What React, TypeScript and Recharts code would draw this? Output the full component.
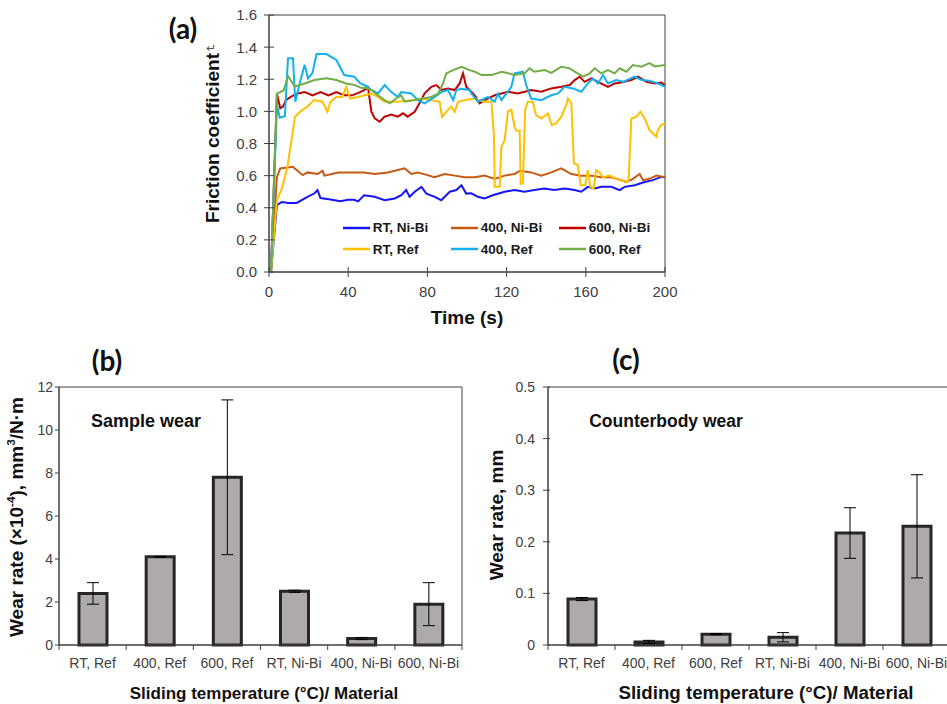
import React from 'react';
import {
  LineChart, Line, XAxis, YAxis, ReferenceArea, Legend,
  BarChart, Bar, ErrorBar,
} from 'recharts';

// ---------------- data: panel (a) friction coefficient vs time ----------------
const timeTicks = [0, 40, 80, 120, 160, 200];
const frictionTicks = [0, 0.2, 0.4, 0.6, 0.8, 1.0, 1.2, 1.4, 1.6];

const rtNiBi: [number, number][] = [[1,0],[4,0.416],[6.5,0.436],[9.8,0.43],[14,0.43],[19.4,0.468],[23,0.49],[24.5,0.51],[26,0.46],[31,0.452],[36,0.44],[40,0.45],[43,0.45],[45,0.44],[48,0.478],[53.4,0.468],[58.4,0.447],[63.5,0.458],[66.8,0.478],[69.3,0.51],[71,0.468],[73.6,0.5],[77,0.53],[79.5,0.488],[83.7,0.468],[87,0.447],[91.3,0.5],[94.6,0.51],[97.2,0.54],[99.6,0.488],[102.2,0.49],[105.5,0.468],[108.9,0.458],[113,0.478],[119,0.5],[124,0.51],[129,0.5],[134,0.51],[139,0.52],[144,0.51],[149.3,0.52],[154.4,0.51],[157.7,0.5],[161,0.53],[164.5,0.52],[167.8,0.53],[172.9,0.53],[177.1,0.51],[179.6,0.53],[184.7,0.54],[189.7,0.56],[193.9,0.572],[198.1,0.592],[200,0.59]];
const t400NiBi: [number, number][] = [[1,0],[4,0.59],[5.7,0.645],[12,0.655],[17,0.603],[19.4,0.62],[24.5,0.61],[27,0.63],[28,0.6],[35,0.62],[41,0.62],[48,0.62],[53.4,0.61],[60,0.62],[68.5,0.645],[71.9,0.61],[75.2,0.62],[83.7,0.59],[88.7,0.61],[93.8,0.6],[98.8,0.59],[103.9,0.59],[108.9,0.6],[114,0.58],[119,0.6],[124,0.61],[126.6,0.63],[132.4,0.62],[137.5,0.6],[142.6,0.62],[147.6,0.645],[152.7,0.61],[157.7,0.6],[162.8,0.6],[167.8,0.59],[172.9,0.59],[178,0.572],[180.5,0.56],[183.8,0.58],[187.2,0.61],[188.9,0.572],[192.2,0.58],[195.6,0.6],[200,0.59]];
const t600NiBi: [number, number][] = [[1,0],[4,1.11],[5.7,1.02],[7.1,1.03],[8.5,1.07],[11,1.09],[14,1.11],[18,1.12],[22,1.1],[26,1.12],[30,1.1],[34,1.12],[38,1.1],[42,1.1],[46,1.12],[48.3,1.133],[50,1.15],[51.7,0.998],[53.4,0.956],[55.9,0.935],[58.4,0.967],[61.8,0.98],[65,0.967],[67.7,0.988],[70,0.967],[73.6,0.998],[76,1.05],[78.6,1.112],[82,1.153],[84.5,1.164],[87,1.133],[90.4,1.143],[93.8,1.133],[96.3,1.174],[98,1.237],[99.6,1.153],[101.3,1.133],[103.9,1.1],[106.4,1.05],[108.9,1.07],[114,1.1],[120.7,1.122],[125.7,1.112],[132.4,1.133],[137.5,1.122],[142.6,1.143],[147.6,1.153],[151.9,1.164],[154.4,1.195],[156.9,1.216],[159.4,1.184],[162.8,1.205],[166.1,1.184],[171.2,1.153],[174.6,1.174],[177.9,1.18],[183,1.195],[186.4,1.216],[190.6,1.184],[194.8,1.174],[198.1,1.18],[200,1.164]];
const rtRef: [number, number][] = [[1,0],[4,0.447],[6.5,0.52],[9.3,0.655],[11.9,0.863],[13.1,0.966],[16,1.0],[19.4,1.03],[22.7,1.07],[27,1.06],[29.5,0.998],[31,1.06],[34,1.09],[37,1.09],[39,1.153],[41,1.08],[45,1.09],[48.3,1.1],[51.7,1.11],[55,1.09],[58.4,1.06],[65,1.06],[71.9,1.07],[77.8,1.08],[82,1.07],[86.2,1.06],[87.4,0.966],[89.6,0.998],[92,1.03],[93.8,0.998],[95.5,1.06],[98.8,1.07],[103.9,1.08],[108.9,1.06],[112.3,1.06],[113.6,0.85],[114,0.53],[116.5,0.53],[117.4,0.78],[119,0.82],[120.7,1.0],[122.4,1.01],[124,0.904],[124.9,0.88],[126.6,0.88],[127.1,0.55],[128.2,0.55],[129.4,1.01],[130.7,1.06],[133.2,1.06],[134.9,0.977],[137.5,0.956],[140.8,0.987],[142.8,0.915],[145,0.925],[147.6,0.967],[150.1,1.04],[151,1.08],[152.7,1.05],[154,0.676],[156,0.665],[157.4,0.54],[159.7,0.54],[161,0.634],[162.3,0.53],[164,0.52],[165.2,0.634],[166.9,0.62],[168.6,0.59],[172,0.6],[175.4,0.58],[180.5,0.56],[181.6,0.57],[183,0.956],[185.5,0.966],[187.6,0.998],[189.7,0.956],[192.2,0.883],[195.6,0.842],[196.4,0.883],[198.1,0.915],[200,0.925]];
const t400Ref: [number, number][] = [[1,0],[4,1.04],[5.5,0.96],[8,0.97],[9.6,1.33],[12.1,1.33],[13.3,1.06],[15,1.15],[18,1.29],[19.7,1.205],[22,1.24],[24,1.357],[29,1.357],[34,1.32],[38,1.226],[43,1.216],[46,1.175],[49.6,1.155],[51.7,1.133],[55,1.112],[58.4,1.164],[61.8,1.12],[65,1.09],[66.8,1.12],[71.9,1.112],[75.2,1.07],[78.6,1.05],[83.7,1.09],[87,1.12],[90.4,1.133],[93,1.07],[94.6,1.133],[97.2,1.14],[101.3,1.133],[102.2,1.112],[105.5,1.06],[110.6,1.09],[114,1.06],[115.6,1.11],[117.4,1.07],[122.4,1.153],[124,1.237],[128.2,1.247],[129.9,1.164],[132.4,1.08],[137.5,1.07],[142.6,1.1],[146,1.112],[149.3,1.153],[153.5,1.143],[157.7,1.122],[161,1.174],[163.6,1.205],[166.1,1.174],[168.7,1.226],[171.2,1.174],[175.4,1.195],[178.8,1.184],[184.7,1.216],[188.1,1.195],[192.2,1.19],[196.4,1.174],[200,1.153]];
const t600Ref: [number, number][] = [[1,0],[4,1.11],[7.4,1.13],[9.6,1.22],[13,1.155],[18,1.174],[23,1.195],[29,1.206],[34,1.195],[39,1.174],[43,1.165],[47,1.145],[49.6,1.145],[51.7,1.133],[55,1.1],[58.4,1.07],[61,1.05],[64.2,1.08],[66.8,1.1],[68.5,1.06],[73.6,1.07],[77.8,1.08],[82,1.09],[85.4,1.11],[87.9,1.174],[89.6,1.237],[93,1.257],[97.2,1.278],[101.3,1.257],[103.9,1.247],[107.3,1.226],[112.3,1.226],[117.4,1.247],[119.9,1.24],[124,1.226],[129.1,1.237],[131.6,1.268],[134,1.247],[139.2,1.257],[142.6,1.24],[147.6,1.278],[151.9,1.268],[154.4,1.247],[158.6,1.216],[162,1.237],[164.5,1.268],[167.8,1.237],[171.2,1.257],[174.6,1.237],[177.1,1.268],[180.5,1.247],[183.8,1.288],[188.1,1.278],[192.2,1.3],[194.8,1.28],[200,1.288]];

const seriesNames = ['RT, Ni-Bi', '400, Ni-Bi', '600, Ni-Bi', 'RT, Ref', '400, Ref', '600, Ref'];
const seriesColors = ['#1515f5', '#c65a14', '#c00000', '#ffc000', '#12b0ee', '#70ad47'];
const seriesData = [rtNiBi, t400NiBi, t600NiBi, rtRef, t400Ref, t600Ref];

// ---------------- data: panels (b) and (c) ----------------
const categories = ['RT, Ref', '400, Ref', '600, Ref', 'RT, Ni-Bi', '400, Ni-Bi', '600, Ni-Bi'];
const sampleWear = [2.4, 4.1, 7.8, 2.5, 0.3, 1.9];
const sampleWearErr = [0.5, 0.02, 3.6, 0.05, 0.05, 1.0];
const sampleTicks = [0, 2, 4, 6, 8, 10, 12];
const counterWear = [0.089, 0.006, 0.021, 0.015, 0.217, 0.23];
const counterWearErr = [0.003, 0.003, 0.001, 0.009, 0.049, 0.1];
const counterTicks = [0, 0.1, 0.2, 0.3, 0.4, 0.5];

const sampleRows = categories.map((c, i) => ({ c, v: sampleWear[i], e: sampleWearErr[i] }));
const counterRows = categories.map((c, i) => ({ c, v: counterWear[i], e: counterWearErr[i] }));

// ---------------- styles ----------------
const SANS = '"Liberation Sans", Arial, Helvetica, sans-serif';
const AXIS = '#404040';
const TICK = '#404040';
const TITLE = '#111111';
const BAR_FILL = '#aeaaaa';
const BAR_STROKE = '#262626';

const TopYTick = (props: any) => {
  const { x, y, payload } = props;
  return (
    <g>
      <line x1={x - 5} x2={x + 5} y1={y} y2={y} stroke={AXIS} strokeWidth={1} />
      <text x={x - 12} y={y} dy="0.36em" textAnchor="end" fontSize={15} fill={TICK} fontFamily={SANS}>
        {Number(payload.value).toFixed(1)}
      </text>
    </g>
  );
};

const TopXTick = (props: any) => {
  const { x, y, payload } = props;
  return (
    <g>
      <line x1={x} x2={x} y1={y - 5} y2={y + 5} stroke={AXIS} strokeWidth={1} />
      <text x={x} y={y + 25} textAnchor="middle" fontSize={15} fill={TICK} fontFamily={SANS}>
        {payload.value}
      </text>
    </g>
  );
};

const makeCatTick = (half: number, count: number) => (props: any) => {
  const { x, y, payload, index } = props;
  return (
    <g>
      <line x1={x - half} x2={x - half} y1={y} y2={y + 5} stroke={AXIS} strokeWidth={1} />
      {index === count - 1 ? (
        <line x1={x + half} x2={x + half} y1={y} y2={y + 5} stroke={AXIS} strokeWidth={1} />
      ) : null}
      <text x={x} y={y + 23} textAnchor="middle" fontSize={14} fill={TICK} fontFamily={SANS}>
        {payload.value}
      </text>
    </g>
  );
};

const makeValTick = (left: number, right: number, gap: number) => (props: any) => {
  const { x, y, payload } = props;
  return (
    <g>
      <line x1={x - left} x2={x + right} y1={y} y2={y} stroke={AXIS} strokeWidth={1} />
      <text x={x - gap} y={y} dy="0.36em" textAnchor="end" fontSize={14} fill={TICK} fontFamily={SANS}>
        {payload.value}
      </text>
    </g>
  );
};

const LegendContent = (props: any) => {
  const items = [...(props.payload || [])].sort(
    (a: any, b: any) => seriesNames.indexOf(a.value) - seriesNames.indexOf(b.value),
  );
  return (
    <div style={{ display: 'grid', gridTemplateColumns: '108px 108px 108px', rowGap: 3.6 }}>
      {items.map((it: any) => (
        <div key={it.value} style={{ display: 'flex', alignItems: 'center', height: 18 }}>
          <svg width={27} height={4} style={{ display: 'block' }}>
            <line x1={0} x2={27} y1={2} y2={2} stroke={it.color} strokeWidth={2.5} />
          </svg>
          <span style={{ marginLeft: 3, fontFamily: SANS, fontWeight: 700, fontSize: 13.5, color: '#1a1a1a', whiteSpace: 'nowrap' }}>
            {it.value}
          </span>
        </div>
      ))}
    </div>
  );
};

const Txt = ({ x, y, size, bold = true, rotate = false, family = SANS, color = TITLE, children }: any) => (
  <div
    style={{
      position: 'absolute', left: x, top: y,
      transform: `translate(-50%, -50%)${rotate ? ' rotate(-90deg)' : ''}`,
      fontFamily: family, fontSize: size, fontWeight: bold ? 700 : 400, color,
      whiteSpace: 'nowrap', lineHeight: 1.15,
    }}
  >
    {children}
  </div>
);

export default function App() {
  return (
    <div style={{ position: 'absolute', left: 0, top: 0, width: 947, height: 704, overflow: 'hidden', background: '#fff' }}>
      {/* Panel (a) */}
      <div style={{ position: 'absolute', left: 0, top: 0 }}>
        <LineChart width={700} height={330} margin={{ top: 15, right: 35, left: 0, bottom: 0 }}>
          <XAxis
            type="number" dataKey="t" domain={[0, 200]} ticks={timeTicks} interval={0}
            height={58} tickSize={0} tickMargin={0} tickLine={false}
            axisLine={{ stroke: AXIS }} tick={<TopXTick />}
          />
          <YAxis
            type="number" domain={[0, 1.6]} ticks={frictionTicks} interval={0}
            width={269} tickSize={0} tickMargin={0} tickLine={false}
            axisLine={{ stroke: AXIS }} tick={<TopYTick />}
          />
          <ReferenceArea x1={0} x2={200} y1={0} y2={1.6} fill="none" stroke={AXIS} strokeWidth={1} />
          {seriesNames.map((name, i) => (
            <Line
              key={name}
              data={seriesData[i].map(([t, v]) => ({ t, v }))}
              dataKey="v" name={name} type="linear" stroke={seriesColors[i]}
              strokeWidth={2} dot={false} isAnimationActive={false}
            />
          ))}
          <Legend
            layout="horizontal" verticalAlign="middle" align="center"
            wrapperStyle={{ left: 342.7, top: 218.5, width: 330 }}
            content={<LegendContent />}
          />
        </LineChart>
      </div>

      {/* Panel (b) */}
      <div style={{ position: 'absolute', left: 0, top: 330 }}>
        <BarChart width={470} height={374} data={sampleRows} margin={{ top: 57, right: 8, left: 0, bottom: 0 }}>
          <XAxis
            dataKey="c" type="category" interval={0} height={59}
            tickSize={0} tickMargin={0} tickLine={false} axisLine={{ stroke: AXIS }}
            tick={makeCatTick(33.55, categories.length)}
          />
          <YAxis
            type="number" domain={[0, 12]} ticks={sampleTicks} interval={0} width={59}
            tickSize={0} tickMargin={0} tickLine={false} axisLine={{ stroke: AXIS }}
            tick={makeValTick(4, 0, 6)}
          />
          <ReferenceArea y1={0} y2={12} fill="none" stroke={AXIS} strokeWidth={1} />
          <Bar dataKey="v" fill={BAR_FILL} stroke={BAR_STROKE} strokeWidth={3} barSize={28} isAnimationActive={false}>
            <ErrorBar dataKey="e" width={6} stroke="#000" strokeWidth={1} direction="y" />
          </Bar>
        </BarChart>
      </div>

      {/* Panel (c) */}
      <div style={{ position: 'absolute', left: 470, top: 330 }}>
        <BarChart width={490} height={374} data={counterRows} margin={{ top: 57, right: 10, left: 0, bottom: 0 }}>
          <XAxis
            dataKey="c" type="category" interval={0} height={59}
            tickSize={0} tickMargin={0} tickLine={false} axisLine={{ stroke: AXIS }}
            tick={makeCatTick(33.5, categories.length)}
          />
          <YAxis
            type="number" domain={[0, 0.5]} ticks={counterTicks} interval={0} width={78}
            tickSize={0} tickMargin={0} tickLine={false} axisLine={{ stroke: AXIS }}
            tick={makeValTick(5, 2, 13)}
          />
          <ReferenceArea y1={0} y2={0.5} fill="none" stroke={AXIS} strokeWidth={1} />
          <Bar dataKey="v" fill={BAR_FILL} stroke={BAR_STROKE} strokeWidth={3} barSize={28} isAnimationActive={false}>
            <ErrorBar dataKey="e" width={6} stroke="#000" strokeWidth={1} direction="y" />
          </Bar>
        </BarChart>
      </div>

      {/* Titles and labels */}
      <Txt x={183} y={28} size={28} family="Lato, 'Open Sans', sans-serif">(a)</Txt>
      <Txt x={211} y={49} size={12} bold={false} color="#555" family="'DejaVu Sans', sans-serif">↵</Txt>
      <Txt x={212.5} y={138} size={19} rotate>Friction coefficient</Txt>
      <Txt x={467} y={318} size={19}>Time (s)</Txt>

      <Txt x={107} y={360} size={28} family="Lato, 'Open Sans', sans-serif">(b)</Txt>
      <Txt x={146} y={421} size={18}>Sample wear</Txt>
      <Txt x={16} y={517} size={19} rotate>
        Wear rate (×10<sup style={{ fontSize: '0.62em' }}>-4</sup>), mm<sup style={{ fontSize: '0.62em' }}>3</sup>/N·m
      </Txt>
      <Txt x={264} y={694} size={17}>Sliding temperature (°C)/ Material</Txt>

      <Txt x={626} y={359} size={28} family="Lato, 'Open Sans', sans-serif">(c)</Txt>
      <Txt x={666} y={421} size={17.5}>Counterbody wear</Txt>
      <Txt x={497} y={515} size={19} rotate>Wear rate, mm</Txt>
      <Txt x={766} y={692.5} size={18.7}>Sliding temperature (°C)/ Material</Txt>
    </div>
  );
}
